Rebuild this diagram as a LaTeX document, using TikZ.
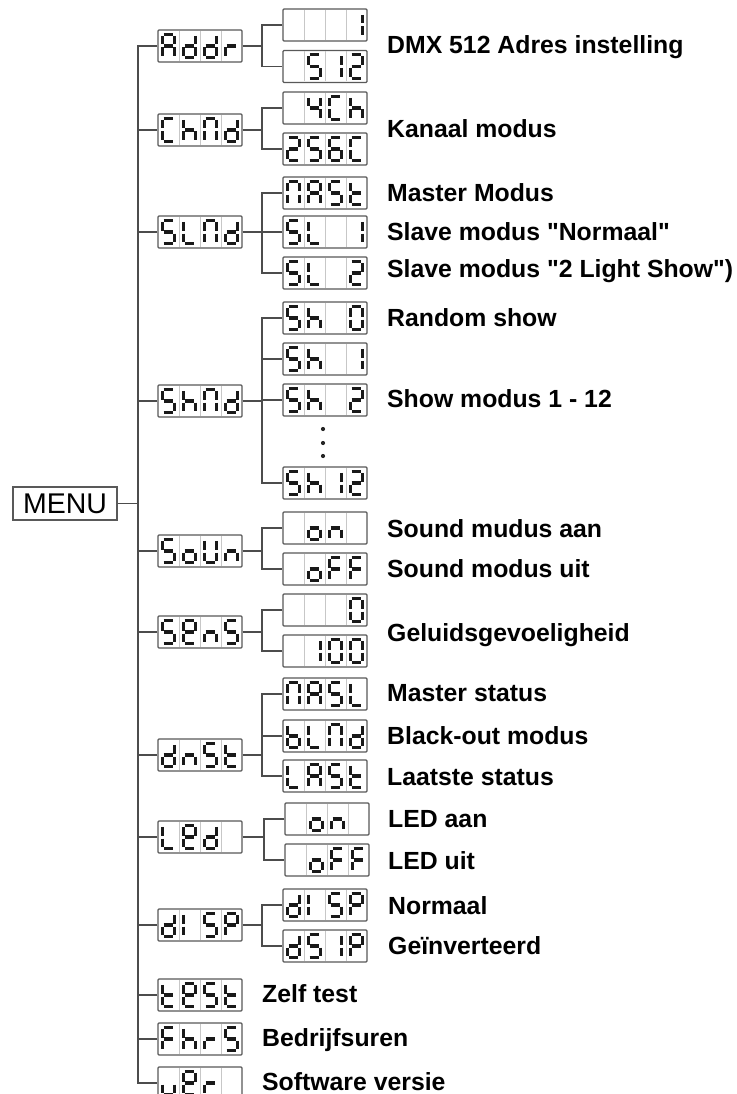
\documentclass[tikz,border=0pt]{standalone}
\usepackage{fontspec}
\newfontfamily\labfont{Liberation Sans}
\usetikzlibrary{calc}
\tikzset{
  conn/.style={draw=black!70, line width=1.4pt},
  lcd/.style={draw=black!65, line width=1.3pt, rounded corners=1pt, minimum width=84pt, minimum height=32pt, inner sep=0pt},
  cellsep/.style={draw=black!22, line width=1pt},
  segm/.style={draw=black!90, line width=3.3pt},
  lbl/.style={anchor=base west, inner sep=0pt, font=\labfont\bfseries\fontsize{24.8}{26}\selectfont, text=black},
  menubox/.style={draw=black!65, line width=1.3pt, minimum width=104pt, minimum height=33pt, inner sep=0pt, font=\labfont\fontsize{28.5}{30}\selectfont}
}
\def\xl{4.2}\def\xr{16.8}\def\yt{4.3}\def\ym{16}\def\yb{27.7}\def\gp{1.5}
\newcommand\lcdSa{\draw[segm] (\ox+\xl+\gp,\oy+\yt) -- (\ox+\xr-\gp,\oy+\yt);}
\newcommand\lcdSb{\draw[segm] (\ox+\xr,\oy+\yt+\gp) -- (\ox+\xr,\oy+\ym-\gp);}
\newcommand\lcdSc{\draw[segm] (\ox+\xr,\oy+\ym+\gp) -- (\ox+\xr,\oy+\yb-\gp);}
\newcommand\lcdSd{\draw[segm] (\ox+\xl+\gp,\oy+\yb) -- (\ox+\xr-\gp,\oy+\yb);}
\newcommand\lcdSe{\draw[segm] (\ox+\xl,\oy+\ym+\gp) -- (\ox+\xl,\oy+\yb-\gp);}
\newcommand\lcdSf{\draw[segm] (\ox+\xl,\oy+\yt+\gp) -- (\ox+\xl,\oy+\ym-\gp);}
\newcommand\lcdSg{\draw[segm] (\ox+\xl+\gp,\oy+\ym) -- (\ox+\xr-\gp,\oy+\ym);}
\newcommand\lcdSx{}
\newcommand\lcdisp[4]{%
  \node[lcd] (#1) at ({#2+42},#3) {};
  \foreach \k in {1,2,3} {\draw[cellsep] ({#2+21*\k},{#3-15}) -- ({#2+21*\k},{#3+15});}
  \foreach \ch [count=\k] in {#4} {%
    \pgfmathsetmacro\ox{#2+21*(\k-1)}%
    \pgfmathsetmacro\oy{#3-16}%
    \foreach \s in \ch {\csname lcdS\s\endcsname}%
  }%
}
\begin{document}
\begin{tikzpicture}[x=1pt,y=-1pt]
\clip (0,0) rectangle (736,1094);
\fill[white] (0,0) rectangle (736,1094);

% MENU
\node[menubox] (menu) at (65,503.5) {MENU};

% level 1 displays
\lcdisp{addr}{158}{46}{{a,b,c,e,f,g},{b,c,d,e,g},{b,c,d,e,g},{e,g}}
\lcdisp{chmd}{158}{130}{{a,d,e,f},{c,e,f,g},{a,b,c,e,f},{b,c,d,e,g}}
\lcdisp{slmd}{158}{232}{{a,c,d,f,g},{d,e,f},{a,b,c,e,f},{b,c,d,e,g}}
\lcdisp{shmd}{158}{401}{{a,c,d,f,g},{c,e,f,g},{a,b,c,e,f},{b,c,d,e,g}}
\lcdisp{soun}{158}{551}{{a,c,d,f,g},{c,d,e,g},{b,c,d,e,f},{c,e,g}}
\lcdisp{sens}{158}{632}{{a,c,d,f,g},{a,b,d,e,f,g},{c,e,g},{a,c,d,f,g}}
\lcdisp{dnst}{158}{755}{{b,c,d,e,g},{c,e,g},{a,c,d,f,g},{d,e,f,g}}
\lcdisp{led}{158}{837}{{d,e,f},{a,b,d,e,f,g},{b,c,d,e,g},{x}}
\lcdisp{disp}{158}{925}{{b,c,d,e,g},{e,f},{a,c,d,f,g},{a,b,e,f,g}}
\lcdisp{test}{158}{995}{{d,e,f,g},{a,b,d,e,f,g},{a,c,d,f,g},{d,e,f,g}}
\lcdisp{fhrs}{158}{1039}{{a,e,f,g},{c,e,f,g},{e,g},{a,c,d,f,g}}
\lcdisp{uer}{158}{1083}{{c,d,e},{a,b,d,e,f,g},{e,g},{x}}

% level 2 displays
\lcdisp{addrA}{283}{25}{{x},{x},{x},{b,c}}
\lcdisp{addrB}{283}{66.5}{{x},{a,c,d,f,g},{b,c},{a,b,d,e,g}}
\lcdisp{chmdA}{283}{108}{{x},{b,c,f,g},{a,d,e,f},{c,e,f,g}}
\lcdisp{chmdB}{283}{149}{{a,b,d,e,g},{a,c,d,f,g},{a,c,d,e,f,g},{a,d,e,f}}
\lcdisp{slmdA}{283}{193}{{a,b,c,e,f},{a,b,c,e,f,g},{a,c,d,f,g},{d,e,f,g}}
\lcdisp{slmdB}{283}{232}{{a,c,d,f,g},{d,e,f},{x},{b,c}}
\lcdisp{slmdC}{283}{273}{{a,c,d,f,g},{d,e,f},{x},{a,b,d,e,g}}
\lcdisp{shmdA}{283}{318}{{a,c,d,f,g},{c,e,f,g},{x},{a,b,c,d,e,f}}
\lcdisp{shmdB}{283}{359}{{a,c,d,f,g},{c,e,f,g},{x},{b,c}}
\lcdisp{shmdC}{283}{400}{{a,c,d,f,g},{c,e,f,g},{x},{a,b,d,e,g}}
\lcdisp{shmdD}{283}{483}{{a,c,d,f,g},{c,e,f,g},{b,c},{a,b,d,e,g}}
\lcdisp{sounA}{283}{528}{{x},{c,d,e,g},{c,e,g},{x}}
\lcdisp{sounB}{283}{569}{{x},{c,d,e,g},{a,e,f,g},{a,e,f,g}}
\lcdisp{sensA}{283}{610}{{x},{x},{x},{a,b,c,d,e,f}}
\lcdisp{sensB}{283}{651}{{x},{b,c},{a,b,c,d,e,f},{a,b,c,d,e,f}}
\lcdisp{dnstA}{283}{694}{{a,b,c,e,f},{a,b,c,e,f,g},{a,c,d,f,g},{d,e,f}}
\lcdisp{dnstB}{283}{736}{{c,d,e,f,g},{d,e,f},{a,b,c,e,f},{b,c,d,e,g}}
\lcdisp{dnstC}{283}{776}{{d,e,f},{a,b,c,e,f,g},{a,c,d,f,g},{d,e,f,g}}
\lcdisp{ledA}{285}{819}{{x},{c,d,e,g},{c,e,g},{x}}
\lcdisp{ledB}{285}{860}{{x},{c,d,e,g},{a,e,f,g},{a,e,f,g}}
\lcdisp{dispA}{283}{905}{{b,c,d,e,g},{e,f},{a,c,d,f,g},{a,b,e,f,g}}
\lcdisp{dispB}{283}{946}{{b,c,d,e,g},{a,c,d,f,g},{b,c},{a,b,e,f,g}}

% trunk
\coordinate (tbot) at (138,1083);
\draw[conn] (addr.west) -| (tbot) -- (uer.west);
\foreach \n in {chmd,slmd,shmd,soun,sens,dnst,led,disp,test,fhrs}
  {\draw[conn] (\n.west) -- (\n.west -| tbot);}
\draw[conn] (menu.east) -- (menu.east -| tbot);

% junctions
\coordinate (jaddr) at (262,46);
\coordinate (jchmd) at (262,130);
\coordinate (jslmd) at (262,232);
\coordinate (jshmd) at (262,401);
\coordinate (jsoun) at (262,549);
\coordinate (jsens) at (262,631);
\coordinate (jdnst) at (262,755);
\coordinate (jled) at (264,838);
\coordinate (jdisp) at (262,924);

\draw[conn] (addr.east) -- (jaddr);
\draw[conn] (addrA.west) -| (jaddr) |- (addrB.west);
\draw[conn] (chmd.east) -- (jchmd);
\draw[conn] (chmdA.west) -| (jchmd) |- (chmdB.west);
\draw[conn] (slmd.east) -- (jslmd);
\draw[conn] (slmdA.west) -| (jslmd) |- (slmdC.west);
\draw[conn] (slmdB.west) -- (jslmd);
\draw[conn] (shmd.east) -- (jshmd);
\draw[conn] (shmdA.west) -| (jshmd) |- (shmdD.west);
\draw[conn] (shmdB.west) -- (shmdB.west -| jshmd);
\draw[conn] (shmdC.west) -- (shmdC.west -| jshmd);
\draw[conn] (soun.east) -- (soun.east -| jsoun);
\draw[conn] (sounA.west) -| (jsoun) |- (sounB.west);
\draw[conn] (sens.east) -- (sens.east -| jsens);
\draw[conn] (sensA.west) -| (jsens) |- (sensB.west);
\draw[conn] (dnst.east) -- (jdnst);
\draw[conn] (dnstA.west) -| (jdnst) |- (dnstC.west);
\draw[conn] (dnstB.west) -- (dnstB.west -| jdnst);
\draw[conn] (led.east) -- (led.east -| jled);
\draw[conn] (ledA.west) -| (jled) |- (ledB.west);
\draw[conn] (disp.east) -- (disp.east -| jdisp);
\draw[conn] (dispA.west) -| (jdisp) |- (dispB.west);

% dots
\fill[black!85] (323,429) circle (2.1);
\fill[black!85] (323,443) circle (2.1);
\fill[black!85] (323,456) circle (2.1);

% labels
\node[lbl] (t1) at (387,53.5) {DMX 512 Adres instelling};
\node[lbl] (t2) at (387,137.5) {Kanaal modus};
\node[lbl] (t3) at (387,201) {Master Modus};
\node[lbl] (t4) at (387,240) {Slave modus "Normaal"};
\node[lbl] (t5) at (387,277) {Slave modus "2 Light Show")};
\node[lbl] (t6) at (387,326) {Random show};
\node[lbl] (t7) at (387,407) {Show modus 1 - 12};
\node[lbl] (t8) at (387,537) {Sound mudus aan};
\node[lbl] (t9) at (387,577) {Sound modus uit};
\node[lbl] (t10) at (387,641) {Geluidsgevoeligheid};
\node[lbl] (t11) at (387,701) {Master status};
\node[lbl] (t12) at (387,744) {Black-out modus};
\node[lbl] (t13) at (387,785) {Laatste status};
\node[lbl] (t14) at (388,827) {LED aan};
\node[lbl] (t15) at (388,869) {LED uit};
\node[lbl] (t16) at (388,914) {Normaal};
\node[lbl] (t17) at (388,954) {Geïnverteerd};
\node[lbl] (t18) at (262,1002) {Zelf test};
\node[lbl] (t19) at (262,1046) {Bedrijfsuren};
\node[lbl] (t20) at (262,1090) {Software versie};
\end{tikzpicture}
\end{document}
